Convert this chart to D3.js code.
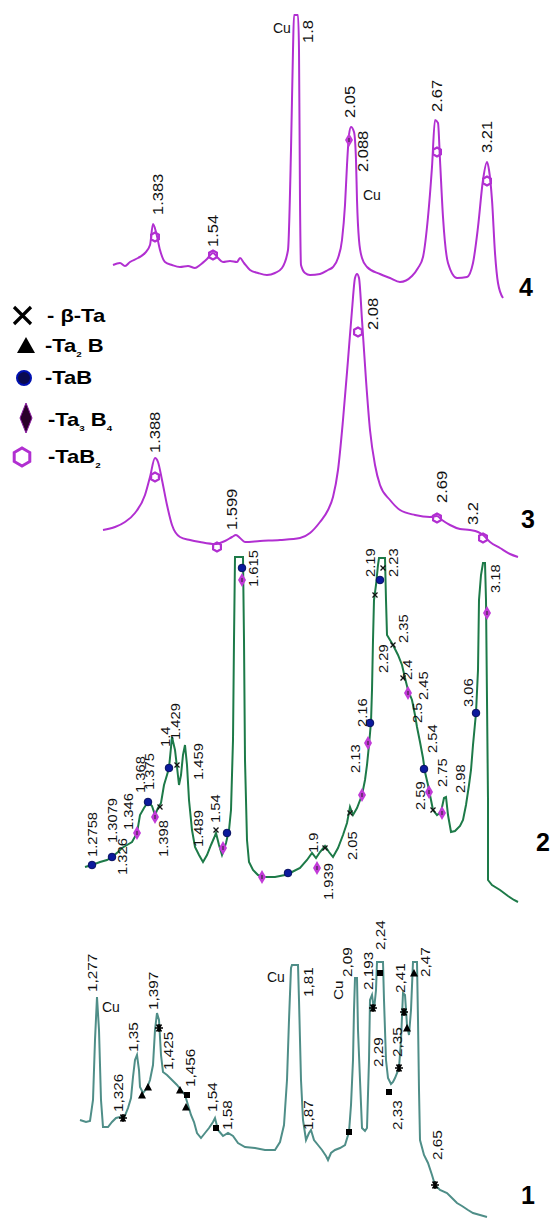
<!DOCTYPE html>
<html>
<head>
<meta charset="utf-8">
<script src="https://cdn.jsdelivr.net/npm/d3@7"></script>
<style>
  html, body { margin: 0; padding: 0; background: #fff; }
  svg { display: block; font-family: "Liberation Sans", Arial, sans-serif; }
</style>
</head>
<body>
<div id="chart"></div>
<script>
// position along the pattern (arbitrary units) and intensity (counts)

// pattern 4 (magenta)
var trace4 = [[33,35],[40,37],[45,34],[50,38],[58,42],[65,47],[70,55],[73,76],[76,68],[80,50],[85,38],[92,35],
  [100,33],[108,34],[115,32],[120,35],[127,41],[133,47],[138,42],[143,38],[150,39],[157,38],[160,42],[164,37],
  [170,30],[178,27],[187,25],[195,27],[202,32],[208,50],[211,150],[213,250],[214,285],[218,285],[219,250],
  [220,100],[221,35],[225,27],[230,25],[240,26],[248,30],[253,33],[258,42],[262,60],[265,95],[267,135],
  [269,165],[271,173],[274,168],[276,140],[277,100],[279,60],[282,42],[287,33],[300,26],[310,22],[320,18],
  [332,24],[338,32],[343,43],[348,83],[352,133],[355,180],[358,177],[360,140],[363,83],[368,37],[377,22],
  [387,23],[393,37],[398,73],[403,120],[407,138],[409,130],[412,100],[415,47],[418,17],[423,2]];
var marks4 = [['TaB2',75,63],['TaB2',133,45],['TaB2',357,148],['TaB2',407,119],['Ta3B4',269,160]];
var labels4 = [['1.383',78,85],['1.54',133,53],['1.8',228,257],['2.05',270,182],['2.088',283,128],
  ['2.67',357,188],['3.21',407,147]];
var flat4 = [['Cu',193,267],['Cu',283,100]];

// pattern 3 (magenta)
var trace3 = [[23,30],[35,33],[45,38],[55,47],[65,65],[70,83],[75,102],[78,98],[82,80],[87,55],[92,35],
  [100,23],[110,20],[120,18],[135,16],[145,19],[152,23],[156,25],[160,22],[165,18],[180,19],[200,20],
  [220,22],[230,27],[240,38],[248,50],[253,63],[258,90],[263,140],[268,200],[272,250],[275,282],[277,286],
  [279,282],[282,240],[286,180],[290,130],[295,95],[300,75],[310,60],[320,50],[335,45],[350,43],[357,44],
  [362,40],[370,35],[380,31],[390,30],[398,28],[403,25],[410,18],[420,12],[430,6],[438,3]];
var marks3 = [['TaB2',75,83],['TaB2',137,13],['TaB2',278,228],['TaB2',357,42],['TaB2',403,22]];
var labels3 = [['1.388',75,107],['1.599',152,30],['2.08',293,230],['2.69',362,57],['3.2',393,35]];

// pattern 2 (green)
var trace2 = [[5,43],[12,45],[20,48],[27,50],[32,53],[38,58],[42,62],[47,65],[52,68],[57,77],[60,95],
  [64,102],[68,108],[72,104],[75,95],[78,102],[81,107],[84,125],[87,135],[89,142],[92,173],[95,160],
  [97,143],[99,125],[101,135],[103,155],[105,165],[107,145],[109,110],[112,80],[115,63],[119,55],[123,48],
  [127,55],[131,65],[134,72],[136,77],[139,65],[142,55],[146,67],[149,80],[151,100],[153,170],[154,270],
  [155,353],[163,353],[164,270],[165,150],[167,70],[169,48],[173,40],[178,35],[185,33],[195,33],[205,35],
  [212,38],[220,42],[227,50],[232,57],[236,52],[240,58],[245,64],[249,58],[253,53],[258,62],[263,75],
  [267,87],[270,103],[273,95],[277,102],[282,115],[285,130],[287,145],[289,165],[291,188],[292,220],
  [293,270],[294,310],[296,325],[298,345],[299,352],[305,352],[306,310],[307,275],[310,270],[313,265],
  [318,255],[322,245],[325,232],[328,220],[332,210],[335,195],[337,183],[340,168],[343,152],[345,138],
  [348,125],[351,110],[353,100],[357,95],[361,98],[364,112],[366,113],[368,95],[371,78],[375,79],[380,84],
  [383,90],[386,105],[389,125],[391,140],[393,165],[396,197],[398,240],[399,310],[401,335],[403,347],
  [405,347],[406,310],[407,210],[408,110],[408,30],[412,25],[420,20],[428,14],[434,10],[438,8]];
var marks2 = [['TaB',12,45],['TaB',32,53],['TaB',68,108],['TaB',89,142],['TaB',147,77],['TaB',162,342],
  ['TaB',208,37],['TaB',290,187],['TaB',300,330],['TaB',344,141],['TaB',396,197],
  ['Ta3B4',57,77],['Ta3B4',75,93],['Ta3B4',143,62],['Ta3B4',162,330],['Ta3B4',182,33],['Ta3B4',237,42],
  ['Ta3B4',282,115],['Ta3B4',288,167],['Ta3B4',328,217],['Ta3B4',349,118],['Ta3B4',362,97],['Ta3B4',407,297],
  ['bTa',80,103],['bTa',97,145],['bTa',136,80],['bTa',245,62],['bTa',270,97],['bTa',295,315],
  ['bTa',303,342],['bTa',313,265],['bTa',323,232],['bTa',353,100]];
var labels2 = [['1.2758',12,53],['1.3079',32,67],['1.326',42,35],['1.346',48,80],['1.368',60,117],
  ['1.375',69,120],['1.4',85,163],['1.398',83,53],['1.429',95,170],['1.459',118,130],['1.489',118,63],
  ['1.54',135,87],['1.615',173,323],['1.9',233,57],['1.939',248,10],['2.05',272,50],['2.13',275,137],
  ['2.16',282,183],['2.19',290,333],['2.23',313,333],['2.29',303,237],['2.35',323,267],['2.4',327,230],
  ['2.45',343,210],['2.5',337,187],['2.54',352,157],['2.59',340,100],['2.75',362,123],['2.98',380,117],
  ['3.06',388,203],['3.18',415,317]];

// pattern 1 (grey-green)
var trace1 = [[0,100],[6,98],[10,99],[13,120],[15,180],[17,223],[19,190],[21,120],[23,93],[28,93],[32,98],
  [36,102],[40,103],[44,102],[48,112],[51,122],[53,143],[55,160],[57,165],[59,150],[60,133],[63,127],
  [67,132],[70,140],[73,155],[75,190],[77,207],[79,200],[81,165],[83,148],[87,145],[92,140],[97,135],
  [101,130],[105,125],[108,115],[111,105],[114,98],[117,87],[121,82],[125,87],[129,92],[133,98],[135,102],
  [138,90],[143,84],[148,87],[153,84],[158,77],[165,73],[175,72],[185,70],[195,70],[200,78],[204,95],
  [207,140],[209,200],[211,252],[212,255],[218,255],[219,220],[221,140],[223,100],[226,80],[229,87],
  [231,90],[234,80],[238,75],[242,70],[246,64],[248,60],[251,67],[255,70],[260,72],[265,75],[269,88],
  [271,115],[273,160],[274,210],[275,242],[277,242],[278,190],[280,140],[282,92],[285,89],[287,92],
  [289,160],[290,220],[292,225],[294,210],[296,230],[297,258],[303,258],[304,220],[306,160],[308,142],
  [311,136],[313,138],[315,142],[319,152],[321,180],[323,227],[325,225],[327,195],[329,185],[331,210],
  [333,258],[337,258],[338,200],[339,130],[340,80],[344,65],[348,57],[352,45],[355,35],[360,30],[367,27],
  [372,22],[377,17],[382,14],[388,10],[393,7],[400,5],[407,3]];
var marks1 = [['star',43,102],['star',79,192],['star',293,212],['star',319,152],['star',324,208],['star',355,35],
  ['tri',62,125],['tri',68,133],['tri',100,130],['tri',106,113],['tri',327,192],['tri',334,247],
  ['sq',107,125],['sq',136,92],['sq',269,88],['sq',300,247],['sq',309,128]];
var labels1 = [['1,277',12,228],['1,326',38,108],['1,35',53,168],['1,397',73,210],['1,425',88,150],
  ['1,456',110,133],['1,54',132,108],['1,58',147,90],['1,81',228,223],['1,87',228,90],['2,09',267,243],
  ['Cu',258,220],['2,193',288,230],['2,24',300,270],['2,29',298,153],['2,33',317,90],['2,35',317,163],
  ['2,41',320,227],['2,47',345,243],['2,65',357,60]];
var flat1 = [['Cu',22,208],['Cu',187,238]];

var W = 555, H = 1218;
var magenta = '#b12fd1', green = '#1d7a48', teal = '#4f8e88';

var svg = d3.select('#chart').append('svg').attr('width', W).attr('height', H);
var x = d3.scaleLinear().domain([0, 460]).range([80, 540]);

var panels = [
  { trace: trace4, marks: marks4, labels: labels4, flat: flat4, color: magenta, smooth: true, base: 300, max: 300, fs: 14, num: '4', nx: 519, ny: 296 },
  { trace: trace3, marks: marks3, labels: labels3, flat: [], color: magenta, smooth: true, base: 560, max: 300, fs: 14, num: '3', nx: 521, ny: 528 },
  { trace: trace2, marks: marks2, labels: labels2, flat: [], color: green, smooth: false, base: 910, max: 400, fs: 12.5, num: '2', nx: 536, ny: 851 },
  { trace: trace1, marks: marks1, labels: labels1, flat: flat1, color: teal, smooth: false, base: 1220, max: 300, fs: 13, num: '1', nx: 521, ny: 1204 }
];

var hexPath = function(r) {
  var pts = d3.range(6).map(function(i) {
    var a = Math.PI / 6 + i * Math.PI / 3;
    return [r * Math.cos(a), r * Math.sin(a)];
  });
  return 'M' + pts.join('L') + 'Z';
};

var drawMark = function(g, type, cx, cy) {
  var m = g.append('g').attr('transform', 'translate(' + cx + ',' + cy + ')');
  if (type === 'TaB2') {
    m.append('path').attr('d', hexPath(4.5)).attr('fill', 'none').attr('stroke', magenta).attr('stroke-width', 2.2);
  } else if (type === 'Ta3B4') {
    m.append('path').attr('d', 'M0,-7L4,0L0,7L-4,0Z').attr('fill', '#c23ad8');
    m.append('path').attr('d', 'M0,-2V2').attr('stroke', '#222').attr('stroke-width', 1);
  } else if (type === 'TaB') {
    m.append('circle').attr('r', 3.8).attr('fill', '#0b1a9c').attr('stroke', '#071060');
  } else if (type === 'bTa') {
    m.append('path').attr('d', 'M-2.5,-2.5L2.5,2.5M-2.5,2.5L2.5,-2.5').attr('stroke', '#111').attr('stroke-width', 1.3);
  } else if (type === 'star') {
    m.append('path').attr('d', 'M-4,0H4M-2.5,-3.5L2.5,3.5M-2.5,3.5L2.5,-3.5M0,-4V4').attr('stroke', '#000').attr('stroke-width', 1.6);
  } else if (type === 'tri') {
    m.append('path').attr('d', 'M0,-4L4,3.5L-4,3.5Z').attr('fill', '#000');
  } else if (type === 'sq') {
    m.append('rect').attr('x', -3).attr('y', -3).attr('width', 6).attr('height', 6).attr('fill', '#000');
  }
};

panels.forEach(function(p) {
  var y = d3.scaleLinear().domain([0, p.max]).range([p.base, p.base - p.max]);
  var g = svg.append('g');
  var line = d3.line()
    .x(function(d) { return x(d[0]); })
    .y(function(d) { return y(d[1]); })
    .curve(p.smooth ? d3.curveMonotoneX : d3.curveLinear);

  g.append('path').datum(p.trace)
    .attr('d', line)
    .attr('fill', 'none')
    .attr('stroke', p.color)
    .attr('stroke-width', 2)
    .attr('stroke-linejoin', 'miter');

  p.marks.forEach(function(mk) {
    drawMark(g, mk[0], x(mk[1]), y(mk[2]));
  });

  g.selectAll('text.peak').data(p.labels).enter().append('text')
    .attr('class', 'peak')
    .attr('transform', function(d) {
      return 'translate(' + x(d[1]) + ',' + y(d[2]) + ') rotate(-90) scale(1.18,1)';
    })
    .attr('dy', '0.36em')
    .attr('font-size', p.fs)
    .attr('fill', '#111')
    .text(function(d) { return d[0]; });

  g.selectAll('text.flat').data(p.flat).enter().append('text')
    .attr('class', 'flat')
    .attr('x', function(d) { return x(d[1]); })
    .attr('y', function(d) { return y(d[2]); })
    .attr('font-size', 14)
    .attr('fill', '#111')
    .text(function(d) { return d[0]; });

  svg.append('text')
    .attr('x', p.nx).attr('y', p.ny)
    .attr('font-size', 25)
    .attr('font-weight', 'bold')
    .attr('fill', '#000')
    .text(p.num);
});

// legend
var lg = svg.append('g');

lg.append('path').attr('d', 'M14,307L31,324M14,324L31,307').attr('stroke', '#000').attr('stroke-width', 3.2);
lg.append('path').attr('d', 'M26,337L35,353L17,353Z').attr('fill', '#000');
lg.append('circle').attr('cx', 24).attr('cy', 378).attr('r', 7).attr('fill', '#0a0a50').attr('stroke', '#0010b0').attr('stroke-width', 2);
lg.append('path').attr('d', 'M26,403L32,418L26,433L20,418Z').attr('fill', '#2a002a').attr('stroke', '#8a1aa0').attr('stroke-width', 1);
lg.append('path').attr('d', hexPath(9)).attr('transform', 'translate(22,457)').attr('fill', 'none').attr('stroke', magenta).attr('stroke-width', 3);

var addSubLabel = function(xx, yy, parts) {
  var t = lg.append('text')
    .attr('transform', 'translate(' + xx + ',' + yy + ') scale(1.22,1)')
    .attr('font-size', 18).attr('font-weight', 'bold');
  parts.forEach(function(pt, i) {
    var isSub = (i % 2 === 1);
    t.append('tspan')
      .attr('font-size', isSub ? 8 : 18)
      .attr('dy', isSub ? 5 : (i > 0 ? -5 : 0))
      .text(pt);
  });
};
addSubLabel(47, 322, ['- β-Ta']);
addSubLabel(45, 352, ['-Ta', '2', ' B']);
addSubLabel(45, 384, ['-TaB']);
addSubLabel(48, 426, ['-Ta', '3', ' B', '4']);
addSubLabel(48, 463, ['-TaB', '2']);
</script>
</body>
</html>
